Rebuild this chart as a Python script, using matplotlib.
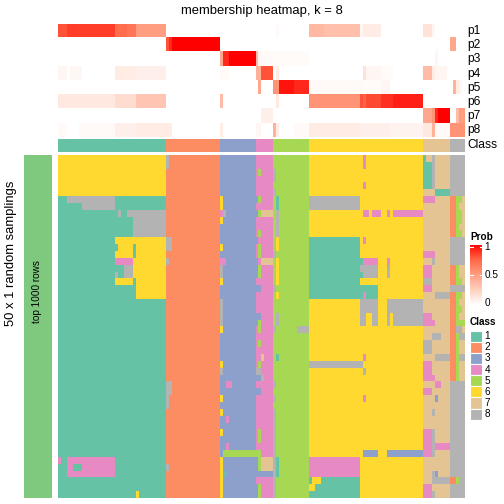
import matplotlib
matplotlib.use("Agg")
import matplotlib.pyplot as plt
import numpy as np
from matplotlib.colors import ListedColormap, LinearSegmentedColormap

plt.rcParams['font.family'] = ['Liberation Sans', 'DejaVu Sans']

# classes, colours and how many samples (columns) each class has
class_names = ['1', '2', '3', '4', '5', '6', '7', '8']
class_colors = ['#66C2A5', '#FC8D62', '#8DA0CB', '#E78AC3',
                '#A6D854', '#FFD92F', '#E5C494', '#B3B3B3']
class_counts = [36, 18, 12, 6, 12, 38, 9, 5]

prob_names = ['p1', 'p2', 'p3', 'p4', 'p5', 'p6', 'p7', 'p8']
# membership probability per column, as (value, run length)
p1 = [(0.8, 3), (0.85, 16), (0.72, 4), (0.68, 3), (0.5, 10), (0, 37), (0.03, 1), (0, 10),
      (0.36, 5), (0.33, 12), (0.05, 1), (0.1, 6), (0, 14), (0.15, 3), (0.05, 1), (0, 10)]
p2 = [(0, 36), (0.8, 1), (0.9, 1), (1.0, 16), (0, 77), (0.45, 2), (0, 3)]
p3 = [(0, 54), (0.45, 1), (0.9, 2), (1.0, 9), (0.35, 1), (0.05, 1), (0.03, 4), (0.02, 12),
      (0, 42), (0.05, 1), (0, 9)]
p4 = [(0.05, 3), (0, 1), (0.04, 4), (0, 11), (0.1, 7), (0.08, 10), (0, 18), (0.03, 3), (0, 9),
      (0.4, 2), (0.8, 4), (0, 1), (0.1, 1), (0, 28), (0.15, 1), (0.05, 5), (0.02, 4), (0, 10),
      (0.35, 3), (0.1, 1), (0.05, 4), (0, 6)]
p5 = [(0, 67), (0.45, 1), (0, 4), (0.55, 2), (0.95, 5), (0.9, 5), (0.03, 18), (0.02, 6),
      (0.05, 3), (0, 21), (0.4, 1), (0.1, 1), (0.05, 1), (0, 1)]
p6 = [(0.12, 19), (0.18, 7), (0.3, 10), (0, 18), (0.35, 1), (0, 18), (0.12, 1), (0, 10),
      (0.55, 17), (0.8, 1), (0.75, 1), (0.82, 5), (0.88, 4), (0.92, 10), (0, 14)]
p7 = [(0, 68), (0.08, 4), (0, 50), (0.45, 3), (0.55, 1), (0.9, 1), (1.0, 4), (0, 2),
      (0.35, 1), (0.5, 2)]
p8 = [(0.03, 3), (0, 4), (0.03, 12), (0.08, 7), (0.1, 10), (0.1, 2), (0, 16), (0.1, 1), (0, 11),
      (0.04, 2), (0, 4), (0.4, 1), (0.1, 1), (0, 5), (0.03, 5), (0.1, 17), (0.08, 10), (0.06, 11),
      (0.12, 3), (0.4, 1), (0.03, 4), (0.03, 1), (0.55, 5)]

# predicted class in each random sampling (row) for each column, run-length coded
membership = [
    "6*36 | 8 2*17 | 3*12 | 4*6 | 5*12 | 6*18 4 6*19 | 1 7*2 8 7*5 | 8*5",
    "6*36 | 8 2*17 | 3*12 | 4*6 | 5*12 | 6*18 4 6*19 | 1*3 8 7*5 | 8*5",
    "6*36 | 2*18 | 3*12 | 4 5 4*4 | 8 5*11 | 6*38 | 1*3 8 7*5 | 8*5",
    "6*36 | 2*18 | 3*12 | 4*6 | 8 5*11 | 6*38 | 1*3 8 7*5 | 8*5",
    "6*36 | 2*18 | 3*12 | 4*6 | 5*12 | 6*18 4 6*19 | 1*3 8 7*5 | 8*5",
    "6*36 | 2*18 | 3*12 | 4*6 | 8 5*11 | 6*38 | 7*4 1*5 | 8*5",
    "1*3 8*16 1*17 | 2*18 | 6 3*11 | 3 5 4*4 | 5 1 5*10 | 8*17 6*21 | 4*4 7*5 | 2*2 5*2 7",
    "1*8 8*11 1*17 | 2*18 | 6 3*11 | 4*6 | 5 1 5*10 | 8*17 6*21 | 7*9 | 2*2 5 7*2",
    "1*20 8 1*2 8*13 | 2*18 | 4 8 3*10 | 3 5 7*4 | 5 8 5*10 | 6*18 4*2 6 4*3 6*2 4 6 4*10 | 7*9 | 2*2 5*2 7",
    "1*25 8*11 | 2*18 | 6 3*11 | 4*6 | 5 8 5*10 | 6*38 | 7*9 | 2*2 5*2 7",
    "1*25 8*11 | 2*18 | 3*12 | 4*6 | 5 8 5*10 | 6*38 | 7*9 | 2*2 5 7*2",
    "1*25 8*11 | 2*18 | 3*12 | 4 5 4*4 | 5 8 5*10 | 6*38 | 7*9 | 2*2 5*2 7",
    "1*19 6*17 | 8*2 2*16 | 3*12 | 3 4*5 | 5 6 5*10 | 1*17 6 4 6*19 | 7*9 | 8*5",
    "1*20 6*5 1 6*10 | 8*2 2*16 | 6 3*11 | 4 5 4*4 | 5 6 5*10 | 1*17 6*21 | 7*9 | 8*5",
    "1*19 6*6 1 6*10 | 2*18 | 3*12 | 4 5 4*4 | 8 5*11 | 1*17 6*21 | 4*4 7*5 | 8*5",
    "1*19 4*6 6*11 | 8 2*17 | 4*2 3*10 | 3 4 7*4 | 5 6 5*10 | 1*18 4*5 6*3 4 6*11 | 7*3 8 7*5 | 8*5",
    "1*22 8*3 6*11 | 2*18 | 8 3*11 | 3 5 4*4 | 5 6 5*10 | 1*17 8*6 6*3 8 6*11 | 4*3 7*6 | 2*2 5 7*2",
    "1*19 8 1*2 8*3 6*11 | 2*18 | 8 3*11 | 3 5 4*4 | 5 6 5*10 | 1*18 8*5 6*3 8 6*11 | 4*3 7*6 | 2*2 5 7*2",
    "1*19 6*6 1 6*10 | 2*18 | 6 3*11 | 4*6 | 5 6 5*10 | 1*17 6*21 | 8*3 7*6 | 2*2 5*2 7",
    "1*26 6*10 | 2*18 | 3*12 | 3*2 4*4 | 8 5*11 | 1*23 6*15 | 4*3 7*6 | 8*5",
    "1*26 6*10 | 2*18 | 3*12 | 4*6 | 5 6 5*10 | 1*18 4 1*4 6*15 | 7*4 8*5 | 2*2 5*2 7",
    "1*36 | 2*18 | 8 3*11 | 4*6 | 5*12 | 6*17 8*6 6*3 8*12 | 7*9 | 2*2 5 7*2",
    "1*36 | 2*18 | 8 3*11 | 4*6 | 5*12 | 6*17 8*6 6*3 8*12 | 7*9 | 2*2 5*2 7",
    "1*36 | 2*18 | 8 3*11 | 3*2 4*4 | 5 8 5*10 | 6*17 8*2 6*2 8*2 6*3 8 6 8*10 | 4*3 7*6 | 2*2 5 7*2",
    "1*36 | 2*18 | 8 3*11 | 3 5 4*4 | 5 8 5*10 | 6*17 8*2 6*2 8*2 6*3 8 6 8*10 | 4*4 7*5 | 2*2 5*3",
    "1*36 | 2*18 | 6 3*11 | 4 5 4*4 | 8 5*7 8*4 | 6*38 | 7*9 | 2*2 8*2 7",
    "1*36 | 2*18 | 3*12 | 4*6 | 5*12 | 6*38 | 7*3 8*3 7*3 | 2*2 5 8*2",
    "1*36 | 2*18 | 3*12 | 4 5 4*4 | 5*12 | 6*38 | 8*3 7*6 | 2*2 5 7*2",
    "1*36 | 2*18 | 3*12 | 4*6 | 5*12 | 6*38 | 8*3 7*6 | 2*2 5 7*2",
    "1*36 | 2*18 | 3*12 | 4*2 7 4*3 | 5 1 5*10 | 6*18 4 6*19 | 7*4 8*5 | 2*2 5 8*2",
    "1*36 | 2*18 | 6 3*11 | 4 5 4*4 | 5*12 | 8*18 6*20 | 4*3 7*6 | 2*2 5 7*2",
    "1*36 | 2*18 | 8 3*11 | 8*2 4*4 | 5*12 | 6*18 8 6*19 | 4*3 7*6 | 2*2 5 7*2",
    "1*36 | 2*18 | 3*12 | 3*2 8 4*3 | 5*12 | 6*38 | 4*4 7*5 | 2*2 5 7*2",
    "1*36 | 8*2 2*16 | 3*2 4*2 3*8 | 4*6 | 8 5*11 | 6*38 | 7*4 4*2 7*3 | 8*5",
    "1*36 | 8*2 2*16 | 3*12 | 3*2 4*4 | 5*12 | 6*38 | 4*3 7*6 | 8*5",
    "1*36 | 8 2*17 | 6 3*11 | 4*6 | 8 5*11 | 6*18 4 6*19 | 7*4 3 7*4 | 8*5",
    "1*36 | 8 2*17 | 3*12 | 4*6 | 5*12 | 6*38 | 7*9 | 8*5",
    "1*36 | 2*18 | 6 3*11 | 4*6 | 8 5*11 | 6*38 | 7*3 8 7*5 | 8*5",
    "1*36 | 2*18 | 3*2 4 3*9 | 4*6 | 8 5*11 | 6*38 | 7*9 | 8*5",
    "1*36 | 2*18 | 3*12 | 4*6 | 8 5*11 | 6*38 | 7*9 | 8*5",
    "1*36 | 2*18 | 6 3*11 | 4 5 4*4 | 8 5*11 | 6*38 | 4*3 8 7*5 | 8*5",
    "1*36 | 2*18 | 3*12 | 4 5 4*4 | 8 5*11 | 6*38 | 4*3 8 7*5 | 8*5",
    "1*36 | 2*18 | 3*2 4 3*9 | 4*6 | 8 5*11 | 6*38 | 4*3 8 4*5 | 8*5",
    "1*36 | 2*18 | 3 5*11 | 5*2 4*4 | 8 5*11 | 6*18 3*5 6*3 3*12 | 4*3 8 7*5 | 8*5",
    "4 1*2 4*16 1*17 | 2*18 | 6 3*11 | 3 5 7*4 | 8 1 5*10 | 4*17 6*21 | 7*9 | 8*5",
    "1*3 4*2 1*3 4*11 1*17 | 8 2*17 | 6 3*11 | 3 5 7*4 | 8 1 5*10 | 4*17 6*21 | 7*9 | 8*5",
    "1*3 4*16 1*17 | 2*18 | 6 1 3*10 | 3*6 | 8 1 5*10 | 4*17 6*21 | 7*3 8 3 7*4 | 8*5",
    "1*36 | 2*18 | 6 3*11 | 4*6 | 8 5*11 | 1 6*3 1*13 6*21 | 7*3 8*6 | 2*2 5 8*2",
    "1*36 | 2*18 | 6 3*11 | 3 5 4*4 | 8 5*11 | 6*2 1*15 6*21 | 4*3 7*6 | 8*5",
    "1*26 6 1*9 | 2*18 | 6 3*11 | 3 5 4*4 | 8 5*11 | 1*17 6*21 | 4*3 8 7*5 | 8*5",
]


def expand(row):
    out = []
    for tok in row.replace("|", " ").split():
        if "*" in tok:
            c, n = tok.split("*")
            out += [int(c)] * int(n)
        else:
            out.append(int(tok))
    return out


ncol = sum(class_counts)
mem = np.array([expand(r) for r in membership])
assert mem.shape == (50, ncol), mem.shape
probs = np.array([np.repeat([v for v, n in p], [n for v, n in p])
                  for p in [p1, p2, p3, p4, p5, p6, p7, p8]])
assert probs.shape == (8, ncol), probs.shape
col_class = np.repeat(np.arange(1, 9), class_counts)

# white -> red, interpolated in LAB like the R colour ramp
prob_cmap = LinearSegmentedColormap.from_list(
    'prob', [(0, '#FFFFFF'), (0.25, '#FFCFBE'), (0.5, '#FF9E81'), (0.75, '#FF6746'), (1, '#FF0000')])
class_cmap = ListedColormap(class_colors)

W = 504.0
fig = plt.figure(figsize=(5.04, 5.04), dpi=100)


def box(x0, y0, x1, y1):
    return [x0 / W, 1 - y1 / W, (x1 - x0) / W, (y1 - y0) / W]


def ftext(x, y, s, px, **kw):
    fig.text(x / W, 1 - y / W, s, fontsize=px * 0.72, **kw)


# probability rows
ax_p = fig.add_axes(box(58, 24, 465, 137.5))
ax_p.imshow(probs, cmap=prob_cmap, vmin=0, vmax=1, aspect='auto', interpolation='nearest')
ax_p.axis('off')

# class annotation bar
ax_c = fig.add_axes(box(58, 138.5, 465, 152.5))
ax_c.imshow(col_class[None, :], cmap=class_cmap, vmin=0.5, vmax=8.5, aspect='auto', interpolation='nearest')
ax_c.axis('off')

# main membership heatmap
ax_h = fig.add_axes(box(58, 155, 465, 498))
ax_h.imshow(mem, cmap=class_cmap, vmin=0.5, vmax=8.5, aspect='auto', interpolation='nearest')
ax_h.axis('off')

# left row-title bar
ax_s = fig.add_axes(box(24, 155, 51.5, 498))
ax_s.set_facecolor('#7FC97F')
ax_s.set_xticks([])
ax_s.set_yticks([])
for s in ax_s.spines.values():
    s.set_visible(False)

ftext(261.5, 11, 'membership heatmap, k = 8', 13, ha='center', va='center')
ftext(11, 253, '50 x 1 random samplings', 13, ha='center', va='center', rotation=90)
ftext(37.5, 292, 'top 1000 rows', 10, ha='center', va='center', rotation=90)

rh = (137.5 - 24) / 8.0
for i, name in enumerate(prob_names):
    ftext(467, 24 + rh * (i + 0.5), name, 12, ha='left', va='center')
ftext(467, 145.5, 'Class', 12, ha='left', va='center')

# Prob legend
ftext(470, 237, 'Prob', 10, ha='left', va='center', fontweight='bold')
ax_l = fig.add_axes(box(470, 245, 482, 305))
ax_l.imshow(np.linspace(1, 0, 100)[:, None], cmap=prob_cmap, vmin=0, vmax=1, aspect='auto')
ax_l.axis('off')
for v, lab in [(1, '1'), (0.5, '0.5'), (0, '0')]:
    yy = 303 - 56 * v
    ftext(484.5, yy, lab, 10, ha='left', va='center')
    for xa, xb in [(470, 472.5), (479.5, 482)]:
        fig.add_artist(plt.Line2D([xa / W, xb / W], [1 - yy / W, 1 - yy / W], color='white', lw=0.8))

# Class legend
ftext(470, 322, 'Class', 10, ha='left', va='center', fontweight='bold')
ax_k = fig.add_axes(box(470, 330.5, 482, 330.5 + 11.15 * 8))
ax_k.set_xlim(0, 1)
ax_k.set_ylim(8, 0)
for i, c in enumerate(class_colors):
    ax_k.add_patch(plt.Rectangle((0, i), 1, 1, facecolor=c, edgecolor='white', lw=0.8))
    ftext(484.5, 330.5 + 11.15 * (i + 0.5), class_names[i], 10, ha='left', va='center')
ax_k.axis('off')

fig.savefig('out.png', dpi=100, facecolor='white')
